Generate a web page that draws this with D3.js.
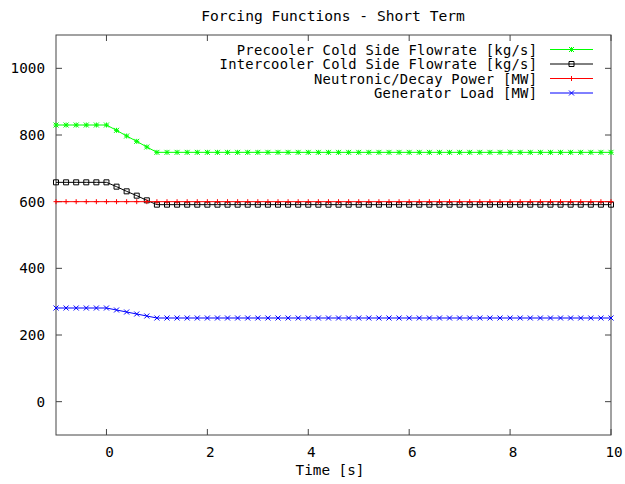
<!DOCTYPE html>
<html><head><meta charset="utf-8">
<script src="https://cdn.jsdelivr.net/npm/d3@7"></script>
<style>body{margin:0;background:#fff}svg{display:block}text{font-family:"DejaVu Sans Mono",monospace;fill:#000}</style>
</head><body>
<script>
const title = "Forcing Functions - Short Term";
const xLabel = "Time [s]";
const xTicks = [0, 2, 4, 6, 8, 10];
const yTicks = [0, 200, 400, 600, 800, 1000];
const seriesNames = ["Precooler Cold Side Flowrate [kg/s]", "Intercooler Cold Side Flowrate [kg/s]", "Neutronic/Decay Power [MW]", "Generator Load [MW]"];
const time = [
 -1.0,-0.8,-0.6,-0.4,-0.2,0.0,0.2,0.4,0.6,0.8,
 1.0,1.2,1.4,1.6,1.8,2.0,2.2,2.4,2.6,2.8,
 3.0,3.2,3.4,3.6,3.8,4.0,4.2,4.4,4.6,4.8,
 5.0,5.2,5.4,5.6,5.8,6.0,6.2,6.4,6.6,6.8,
 7.0,7.2,7.4,7.6,7.8,8.0,8.2,8.4,8.6,8.8,
 9.0,9.2,9.4,9.6,9.8,10.0];
const precooler = [
 830,830,830,830,830,830,814,797,781,764,
 748,748,748,748,748,748,748,748,748,748,
 748,748,748,748,748,748,748,748,748,748,
 748,748,748,748,748,748,748,748,748,748,
 748,748,748,748,748,748,748,748,748,748,
 748,748,748,748,748,748];
const intercooler = [
 658,658,658,658,658,658,645,631,618,604,
 591,591,591,591,591,591,591,591,591,591,
 591,591,591,591,591,591,591,591,591,591,
 591,591,591,591,591,591,591,591,591,591,
 591,591,591,591,591,591,591,591,591,591,
 591,591,591,591,591,591];
const power = [
 600,600,600,600,600,600,600,600,600,600,
 600,600,600,600,600,600,600,600,600,600,
 600,600,600,600,600,600,600,600,600,600,
 600,600,600,600,600,600,600,600,600,600,
 600,600,600,600,600,600,600,600,600,600,
 600,600,600,600,600,600];
const genLoad = [
 281,281,281,281,281,281,275,269,263,257,
 251,251,251,251,251,251,251,251,251,251,
 251,251,251,251,251,251,251,251,251,251,
 251,251,251,251,251,251,251,251,251,251,
 251,251,251,251,251,251,251,251,251,251,
 251,251,251,251,251,251];

const W = 625, H = 484;
const L = 56, R = 611, T = 35, B = 435;
const x = d3.scaleLinear().domain([-1, 10]).range([L, R]);
const y = d3.scaleLinear().domain([-100, 1100]).range([B, T]);

const svg = d3.select("body").append("svg").attr("width", W).attr("height", H);
const fs = "14.3px";

const series = [
  {name: seriesNames[0], vals: precooler, color: "#00ff00", marker: "star"},
  {name: seriesNames[1], vals: intercooler, color: "#000000", marker: "square"},
  {name: seriesNames[2], vals: power, color: "#ff0000", marker: "plus"},
  {name: seriesNames[3], vals: genLoad, color: "#0000ff", marker: "cross"}
];

function marker(g, type, cx, cy, color) {
  const s = 2.5;
  const p = d3.path();
  if (type === "plus" || type === "star") {
    p.moveTo(cx - s, cy); p.lineTo(cx + s, cy);
    p.moveTo(cx, cy - s); p.lineTo(cx, cy + s);
  }
  if (type === "cross" || type === "star") {
    p.moveTo(cx - s, cy - s); p.lineTo(cx + s, cy + s);
    p.moveTo(cx - s, cy + s); p.lineTo(cx + s, cy - s);
  }
  if (type === "square") {
    p.rect(cx - s, cy - s, 2 * s, 2 * s);
  }
  g.append("path").attr("d", p.toString()).attr("fill", "none")
    .attr("stroke", color).attr("stroke-width", 1);
}

// title
svg.append("text").attr("x", 333).attr("y", 21).attr("text-anchor", "middle")
  .style("font-size", "14.6px").text(title);

// border with ticks
const ax = svg.append("g").attr("stroke", "#444").attr("stroke-width", 1).attr("fill", "none");
ax.append("rect").attr("x", L).attr("y", T).attr("width", R - L).attr("height", B - T);
const tl = 6;
xTicks.forEach(v => {
  ax.append("line").attr("x1", x(v)).attr("x2", x(v)).attr("y1", B).attr("y2", B - tl);
  ax.append("line").attr("x1", x(v)).attr("x2", x(v)).attr("y1", T).attr("y2", T + tl);
});
yTicks.forEach(v => {
  ax.append("line").attr("x1", L).attr("x2", L + tl).attr("y1", y(v)).attr("y2", y(v));
  ax.append("line").attr("x1", R).attr("x2", R - tl).attr("y1", y(v)).attr("y2", y(v));
});
xTicks.forEach(v => {
  svg.append("text").attr("x", x(v) + 3).attr("y", 457).attr("text-anchor", "middle")
    .style("font-size", fs).text(v);
});
yTicks.forEach(v => {
  svg.append("text").attr("x", 45).attr("y", y(v) + 5).attr("text-anchor", "end")
    .style("font-size", fs).text(v);
});
svg.append("text").attr("x", 330).attr("y", 475).attr("text-anchor", "middle")
  .style("font-size", fs).text(xLabel);

// series
const line = d3.line().x(d => x(d[0])).y(d => y(d[1]));
series.forEach(s => {
  const pts = time.map((t, i) => [t, s.vals[i]]);
  const g = svg.append("g");
  g.append("path").attr("d", line(pts)).attr("fill", "none")
    .attr("stroke", s.color).attr("stroke-width", 1);
  pts.forEach(p => marker(g, s.marker, x(p[0]), y(p[1]), s.color));
});

// legend
const ly0 = 49.5, ldy = 14.5;
series.forEach((s, i) => {
  const ly = ly0 + i * ldy;
  svg.append("text").attr("x", 537).attr("y", ly + 5).attr("text-anchor", "end")
    .attr("textLength", s.name.length * 8.58).attr("lengthAdjust", "spacing")
    .style("font-size", "13.8px").text(s.name);
  const g = svg.append("g");
  g.append("line").attr("x1", 550).attr("x2", 593).attr("y1", ly).attr("y2", ly)
    .attr("stroke", s.color).attr("stroke-width", 1);
  marker(g, s.marker, 571.5, ly, s.color);
});
</script>
</body></html>
